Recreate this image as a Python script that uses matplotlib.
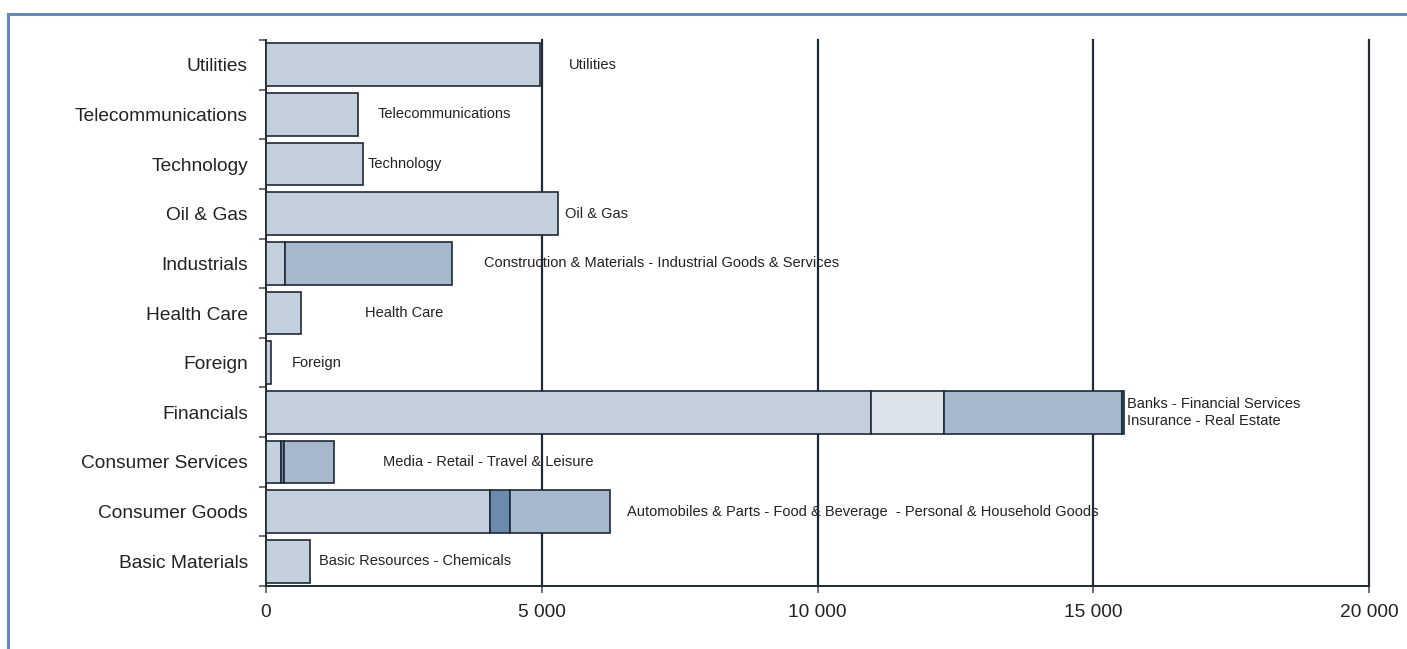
import matplotlib.pyplot as plt
from matplotlib.lines import Line2D
from matplotlib.ticker import FuncFormatter, FixedLocator

plt.rcParams['font.family'] = ['Liberation Sans', 'DejaVu Sans']

# categories from bottom to top
categories = ['Basic Materials', 'Consumer Goods', 'Consumer Services', 'Financials',
              'Foreign', 'Health Care', 'Industrials', 'Oil & Gas', 'Technology',
              'Telecommunications', 'Utilities']

# stacked sub-sector values per category
segments = [
    [800],
    [4060, 365, 1815],
    [275, 50, 915],
    [10970, 1320, 3230, 35],
    [90],
    [640],
    [345, 3035],
    [5290],
    [1750],
    [1665],
    [4975],
]

bar_labels = [
    'Basic Resources - Chemicals',
    'Automobiles & Parts - Food & Beverage  - Personal & Household Goods',
    'Media - Retail - Travel & Leisure',
    'Banks - Financial Services\nInsurance - Real Estate',
    'Foreign',
    'Health Care',
    'Construction & Materials - Industrial Goods & Services',
    'Oil & Gas',
    'Technology',
    'Telecommunications',
    'Utilities',
]

# colours of the segments (style)
light, mid, dark, pale = '#C4D0DD', '#A7B8CD', '#6B8AAD', '#DCE3EB'
seg_colors = [
    [light],
    [light, dark, mid],
    [light, dark, mid],
    [light, pale, mid, dark],
    [light],
    [light],
    [light, mid],
    [light],
    [light],
    [light],
    [light],
]
# label offsets from bar end, in pixels
label_offsets = [9, 17, 49, 3, 21, 64, 32, 7, 5, 20, 29]

edge = '#1F2A36'
text_color = '#222222'

fig = plt.figure(figsize=(14.07, 6.49), dpi=100)
ax = fig.add_axes([266 / 1407, 63 / 649, (1369 - 266) / 1407, (588 - 42) / 649])

for i, (vals, cols) in enumerate(zip(segments, seg_colors)):
    left = 0
    for v, c in zip(vals, cols):
        ax.barh(i, v, left=left, height=0.86, color=c, edgecolor=edge,
                linewidth=1.2, zorder=3)
        left += v
    ax.annotate(bar_labels[i], xy=(left, i), xytext=(label_offsets[i], 0),
                textcoords='offset pixels', ha='left', va='center',
                fontsize=10.5, color=text_color, zorder=1, linespacing=1.25)

ax.set_xlim(0, 20000)
ax.set_ylim(-0.5, len(categories) - 0.5)

ax.set_xticks([0, 5000, 10000, 15000, 20000])
ax.xaxis.set_major_formatter(FuncFormatter(lambda v, p: f'{v:,.0f}'.replace(',', ' ')))
for x in [5000, 10000, 15000, 20000]:
    ax.axvline(x, color=edge, linewidth=1.6, zorder=2, clip_on=False)

ax.set_yticks(range(len(categories)))
ax.set_yticklabels(categories)
ax.yaxis.set_minor_locator(FixedLocator([k - 0.5 for k in range(len(categories) + 1)]))
ax.tick_params(axis='y', which='major', length=0, pad=13, labelsize=13.8, labelcolor=text_color)
ax.tick_params(axis='y', which='minor', length=5, width=1.2, color='#555555')
ax.tick_params(axis='x', which='major', length=5, width=1.2, color='#555555',
               pad=8, labelsize=13.8, labelcolor=text_color)

for s in ['top', 'right']:
    ax.spines[s].set_visible(False)
for s in ['left', 'bottom']:
    ax.spines[s].set_color(edge)
    ax.spines[s].set_linewidth(1.4)

# blue frame on the left and top
border = '#6689B7'
fig.add_artist(Line2D([7.5 / 1407, 7.5 / 1407], [0, 1 - 13.5 / 649], color=border,
                      linewidth=2.2, transform=fig.transFigure, solid_capstyle='projecting'))
fig.add_artist(Line2D([7.5 / 1407, 1], [1 - 13.5 / 649, 1 - 13.5 / 649], color=border,
                      linewidth=2.2, transform=fig.transFigure, solid_capstyle='projecting'))

plt.savefig('out.png', dpi=100)
